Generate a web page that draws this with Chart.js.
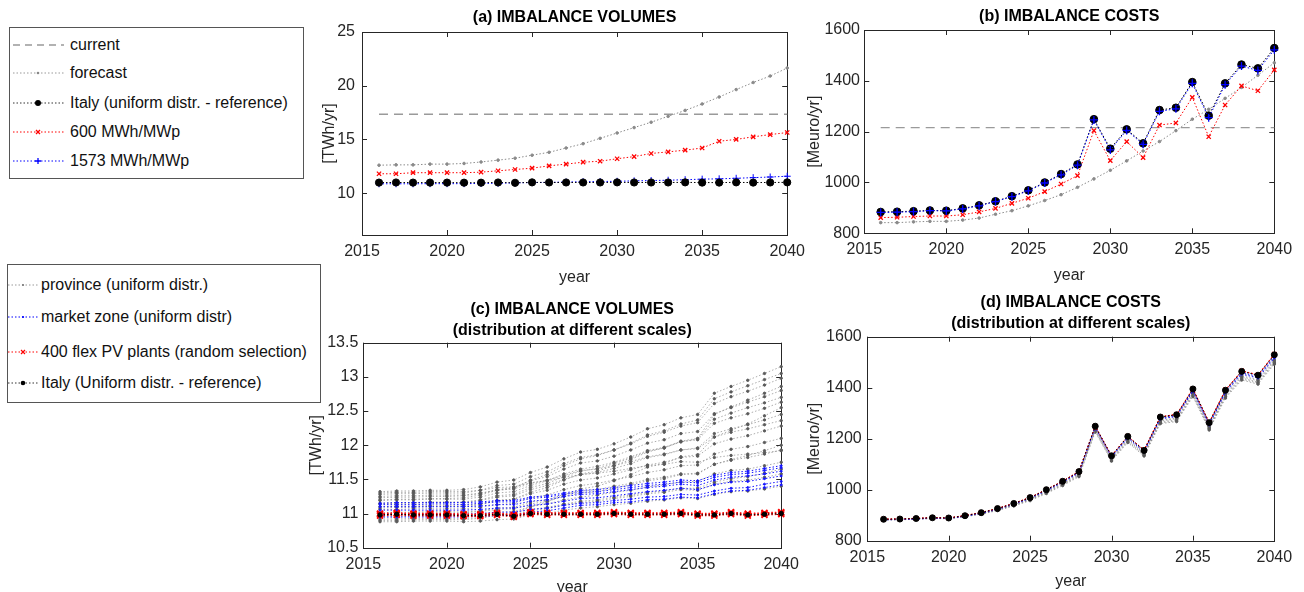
<!DOCTYPE html>
<html>
<head>
<meta charset="utf-8">
<script src="https://cdn.jsdelivr.net/npm/chart.js@4.4.0/dist/chart.umd.min.js"></script>
<style>
body{margin:0;width:1304px;height:592px;overflow:hidden;background:#fff;position:relative;font-family:"Liberation Sans",Arial,sans-serif}
canvas{position:absolute}
.box{position:absolute;border:1px solid #555;background:#fff}
.row{position:absolute;display:flex;align-items:center;font-size:16px;color:#111;white-space:nowrap;height:20px}
.row svg{margin-right:6px}
</style>
</head>
<body>

<div class="box" style="left:9px;top:27px;width:293px;height:150px"></div>
<div class="row" style="left:13px;top:35px"><svg width="51" height="10"><line x1="0" y1="5" x2="51" y2="5" stroke="#999" stroke-width="1.3" stroke-dasharray="7,5"/></svg>current</div>
<div class="row" style="left:13px;top:63px"><svg width="51" height="10"><line x1="0" y1="5" x2="51" y2="5" stroke="#999" stroke-dasharray="1.5,2"/><circle cx="25" cy="5" r="1.3" fill="#888"/></svg>forecast</div>
<div class="row" style="left:13px;top:93px"><svg width="51" height="10"><line x1="0" y1="5" x2="51" y2="5" stroke="#333" stroke-dasharray="1.5,2"/><circle cx="25" cy="5" r="3" fill="#000"/></svg>Italy (uniform distr. - reference)</div>
<div class="row" style="left:13px;top:122px"><svg width="51" height="10"><line x1="0" y1="5" x2="51" y2="5" stroke="#f00" stroke-dasharray="1.5,2"/><path d="M23 3L27 7M27 3L23 7" stroke="#f00" stroke-width="1.3"/></svg>600 MWh/MWp</div>
<div class="row" style="left:13px;top:151px"><svg width="51" height="10"><line x1="0" y1="5" x2="51" y2="5" stroke="#00f" stroke-dasharray="1.5,2"/><path d="M25 2L25 8M22 5L28 5" stroke="#00f" stroke-width="1.3"/></svg>1573 MWh/MWp</div>

<div class="box" style="left:7px;top:264px;width:312px;height:137px"></div>
<div class="row" style="left:8px;top:275px"><svg width="31" height="10" style="margin-right:2px"><line x1="0" y1="5" x2="31" y2="5" stroke="#999" stroke-dasharray="1.5,2"/><circle cx="15" cy="5" r="1.1" fill="#777"/></svg>province (uniform distr.)</div>
<div class="row" style="left:8px;top:307px"><svg width="31" height="10" style="margin-right:2px"><line x1="0" y1="5" x2="31" y2="5" stroke="#00f" stroke-dasharray="1.5,2"/><circle cx="15" cy="5" r="1.1" fill="#00f"/></svg>market zone (uniform distr)</div>
<div class="row" style="left:8px;top:342px"><svg width="31" height="10" style="margin-right:2px"><line x1="0" y1="5" x2="31" y2="5" stroke="#f00" stroke-dasharray="1.5,2"/><path d="M13 3L17 7M17 3L13 7" stroke="#f00" stroke-width="1.2"/></svg>400 flex PV plants (random selection)</div>
<div class="row" style="left:8px;top:373px"><svg width="31" height="10" style="margin-right:2px"><line x1="0" y1="5" x2="31" y2="5" stroke="#333" stroke-dasharray="1.5,2"/><circle cx="15" cy="5" r="2.3" fill="#000"/></svg>Italy (Uniform distr. - reference)</div>

<canvas id="ca" width="512" height="290" style="left:300px;top:0px"></canvas>
<canvas id="cb" width="524" height="290" style="left:780px;top:0px"></canvas>
<canvas id="cc" width="506" height="310" style="left:300px;top:290px"></canvas>
<canvas id="cd" width="524" height="310" style="left:780px;top:290px"></canvas>

<script>
// years and tick labels
const years = [2016,2017,2018,2019,2020,2021,2022,2023,2024,2025,2026,2027,2028,2029,2030,2031,2032,2033,2034,2035,2036,2037,2038,2039,2040];
const xTicks = [2015,2020,2025,2030,2035,2040];
const volTicksA = [10,15,20,25];
const volTicksC = [10.5,11,11.5,12,12.5,13,13.5];
const costTicks = [800,1000,1200,1400,1600];

// (a) imbalance volumes [TWh/yr]
const currentYears = [2016,2040];
const currentVol = [17.34,17.34];
const forecastVol = [12.6,12.63,12.63,12.7,12.7,12.76,12.9,13.07,13.25,13.53,13.8,14.2,14.6,15.1,15.6,16.1,16.6,17.15,17.7,18.3,18.95,19.64,20.3,20.9,21.65];
const italyVol = [10.98,10.99,10.98,10.98,10.98,10.97,10.97,10.99,10.96,11.0,10.99,10.99,10.99,10.99,11.0,10.99,10.99,10.99,11.0,10.98,10.98,11.0,10.98,10.99,11.0];
const vol600 = [11.8,11.8,11.9,11.9,11.9,11.9,11.95,12.08,12.2,12.32,12.54,12.7,12.88,12.97,13.2,13.4,13.69,13.84,14.0,14.2,14.83,15.0,15.24,15.45,15.64];
const vol1573 = [10.87,10.87,10.87,10.88,10.88,10.88,10.9,10.92,10.95,10.98,11.0,11.03,11.06,11.08,11.1,11.14,11.17,11.2,11.25,11.3,11.33,11.38,11.44,11.5,11.57];

// (b) imbalance costs [Meuro/yr]
const currentCost = [1216,1216];
const forecastCost = [842,842,845,847,847,852,860,875,889,908,929,952,981,1014,1048,1085,1124,1161,1204,1249,1288,1331,1374,1422,1471];
const italyCost = [884,885,887,890,889,898,910,926,946,969,1000,1033,1071,1249,1133,1209,1154,1285,1294,1395,1263,1390,1464,1449,1529];
const cost600 = [862,863,866,868,868,873,884,898,918,938,964,994,1027,1204,1086,1161,1098,1226,1234,1335,1180,1305,1380,1361,1443];
const cost1573 = [882,883,885,889,888,896,908,925,944,967,998,1030,1068,1246,1128,1205,1150,1280,1290,1390,1255,1385,1458,1441,1522];

// (c) volumes, province level (uniform distr.)
const provVol = [
  [10.88,10.88,10.89,10.89,10.89,10.88,10.89,10.91,10.92,10.98,11.00,11.05,11.08,11.10,11.13,11.15,11.18,11.20,11.23,11.22,11.28,11.32,11.33,11.36,11.40],
  [10.92,10.92,10.93,10.93,10.93,10.93,10.94,10.97,10.98,11.04,11.07,11.13,11.16,11.18,11.22,11.25,11.29,11.31,11.35,11.34,11.43,11.47,11.49,11.53,11.58],
  [10.97,10.97,10.98,10.98,10.98,10.97,10.99,11.02,11.03,11.10,11.14,11.20,11.24,11.27,11.31,11.34,11.39,11.42,11.46,11.47,11.58,11.63,11.65,11.70,11.75],
  [11.01,11.02,11.02,11.03,11.03,11.02,11.04,11.08,11.09,11.17,11.20,11.28,11.33,11.35,11.40,11.44,11.50,11.53,11.58,11.59,11.72,11.78,11.82,11.87,11.93],
  [11.06,11.06,11.07,11.07,11.07,11.07,11.09,11.13,11.15,11.23,11.27,11.35,11.41,11.44,11.49,11.54,11.60,11.64,11.70,11.71,11.87,11.94,11.98,12.04,12.10],
  [11.10,11.11,11.11,11.12,11.12,11.12,11.14,11.19,11.21,11.29,11.34,11.43,11.49,11.52,11.58,11.64,11.71,11.75,11.82,11.84,12.02,12.09,12.14,12.21,12.28],
  [11.14,11.15,11.15,11.16,11.16,11.16,11.19,11.24,11.26,11.35,11.41,11.50,11.57,11.60,11.66,11.73,11.82,11.86,11.93,11.96,12.17,12.24,12.30,12.37,12.45],
  [11.19,11.20,11.20,11.21,11.21,11.21,11.24,11.30,11.32,11.41,11.48,11.58,11.65,11.69,11.75,11.83,11.92,11.97,12.05,12.08,12.32,12.40,12.46,12.54,12.63],
  [11.23,11.24,11.24,11.25,11.25,11.26,11.29,11.35,11.38,11.48,11.54,11.65,11.74,11.77,11.84,11.93,12.03,12.08,12.17,12.20,12.46,12.55,12.63,12.71,12.80],
  [11.28,11.29,11.29,11.30,11.30,11.30,11.34,11.41,11.43,11.54,11.61,11.73,11.82,11.86,11.93,12.02,12.13,12.19,12.28,12.33,12.61,12.71,12.79,12.88,12.98],
  [11.32,11.33,11.33,11.34,11.34,11.35,11.39,11.46,11.49,11.60,11.68,11.80,11.90,11.94,12.02,12.12,12.24,12.30,12.40,12.45,12.76,12.86,12.95,13.05,13.15],
  [11.30,11.31,11.31,11.32,11.32,11.32,11.34,11.38,11.39,11.45,11.48,11.53,11.57,11.59,11.62,11.66,11.70,11.72,11.76,11.75,11.82,11.85,11.87,11.89,11.92],
  [10.90,10.90,10.91,10.91,10.91,10.91,10.93,10.98,11.00,11.10,11.17,11.27,11.36,11.40,11.48,11.57,11.68,11.73,11.83,11.86,12.12,12.22,12.31,12.43,12.55],
  [11.20,11.21,11.21,11.22,11.22,11.23,11.27,11.34,11.37,11.49,11.57,11.70,11.80,11.85,11.93,12.03,12.15,12.21,12.31,12.37,12.68,12.78,12.87,12.96,13.05],
  [11.00,11.00,11.01,11.01,11.01,11.01,11.03,11.06,11.07,11.14,11.18,11.25,11.30,11.32,11.37,11.42,11.48,11.51,11.57,11.58,11.72,11.79,11.85,11.92,12.00],
  [11.25,11.26,11.26,11.27,11.27,11.27,11.30,11.34,11.36,11.44,11.49,11.56,11.63,11.65,11.70,11.76,11.83,11.87,11.93,11.95,12.12,12.19,12.24,12.30,12.36],
  [11.08,11.09,11.09,11.10,11.10,11.10,11.13,11.19,11.21,11.31,11.38,11.49,11.58,11.62,11.70,11.79,11.90,11.96,12.06,12.10,12.45,12.56,12.66,12.76,12.86],
  [10.95,10.95,10.96,10.96,10.96,10.96,10.97,10.99,11.00,11.06,11.09,11.14,11.18,11.20,11.24,11.27,11.31,11.33,11.37,11.37,11.46,11.51,11.54,11.59,11.65],
  [11.15,11.16,11.16,11.17,11.17,11.17,11.20,11.26,11.28,11.38,11.44,11.54,11.62,11.66,11.73,11.81,11.91,11.96,12.05,12.09,12.38,12.47,12.55,12.62,12.70]
];
// (c) volumes, market zone level
const zoneVol = [
  [10.95,10.95,10.95,10.95,10.95,10.95,10.96,10.97,10.97,11.02,11.04,11.08,11.12,11.13,11.16,11.17,11.20,11.21,11.24,11.23,11.29,11.33,11.34,11.38,11.42],
  [10.99,10.99,10.99,10.99,10.99,10.99,11.00,11.02,11.02,11.06,11.08,11.12,11.15,11.16,11.19,11.21,11.24,11.25,11.28,11.27,11.33,11.37,11.38,11.43,11.47],
  [11.05,11.05,11.05,11.05,11.05,11.05,11.06,11.08,11.08,11.12,11.14,11.18,11.22,11.23,11.26,11.29,11.32,11.34,11.37,11.35,11.42,11.46,11.47,11.51,11.55],
  [11.10,11.10,11.10,11.10,11.10,11.10,11.11,11.13,11.13,11.18,11.20,11.25,11.28,11.29,11.32,11.35,11.38,11.40,11.43,11.41,11.49,11.53,11.55,11.58,11.62],
  [11.13,11.13,11.13,11.14,11.14,11.13,11.15,11.17,11.17,11.22,11.24,11.28,11.31,11.32,11.35,11.38,11.41,11.43,11.46,11.45,11.53,11.57,11.59,11.63,11.67],
  [11.15,11.16,11.16,11.16,11.16,11.16,11.17,11.19,11.19,11.24,11.26,11.30,11.34,11.35,11.38,11.41,11.44,11.46,11.49,11.48,11.56,11.60,11.62,11.66,11.70]
];
// (c) volumes, 400 flex PV plants
const flexVol = [
  [10.99,11.00,10.99,10.99,10.99,10.98,10.98,11.00,10.97,11.01,11.00,11.00,11.00,11.00,11.01,11.00,11.00,11.00,11.01,10.99,10.99,11.01,10.99,11.00,11.01],
  [10.97,10.98,10.97,10.97,10.97,10.96,10.96,10.98,10.95,10.99,10.98,10.98,10.98,10.98,10.99,10.98,10.98,10.98,10.99,10.97,10.97,10.99,10.97,10.98,10.99],
  [11.00,11.01,11.00,11.00,11.00,10.99,10.99,11.01,10.98,11.02,11.01,11.01,11.01,11.01,11.02,11.01,11.01,11.01,11.02,11.00,11.00,11.02,11.00,11.01,11.02]
];

// (d) costs at different scales
const provCost = [
  [884,885,887,890,889,897,909,924,944,966,997,1030,1067,1244,1128,1204,1149,1279,1288,1388,1256,1383,1455,1440,1520],
  [883,884,886,889,888,896,908,923,942,964,994,1026,1063,1240,1124,1199,1144,1273,1281,1381,1249,1375,1447,1431,1510],
  [883,884,886,889,888,896,907,922,941,963,992,1024,1060,1237,1121,1196,1141,1270,1278,1377,1245,1371,1443,1427,1505],
  [882,883,885,888,887,895,906,921,939,961,990,1021,1057,1233,1118,1192,1138,1266,1274,1372,1241,1367,1438,1422,1500],
  [882,883,885,888,887,895,905,920,938,959,988,1019,1054,1230,1115,1189,1135,1262,1270,1369,1238,1363,1434,1418,1496],
  [881,882,884,887,886,894,904,918,936,957,985,1016,1051,1226,1112,1185,1132,1259,1267,1365,1234,1359,1430,1414,1492]
];
const zoneCost = [
  [883,884,886,889,888,897,909,925,945,968,999,1032,1069,1247,1131,1207,1152,1282,1291,1391,1259,1386,1459,1444,1523],
  [882,883,885,888,887,896,907,923,943,966,996,1029,1066,1244,1128,1203,1148,1278,1287,1386,1254,1381,1453,1438,1516]
];
const flexCost = [
  [885,886,888,891,890,899,911,927,947,970,1001,1034,1072,1250,1134,1210,1156,1286,1296,1396,1265,1392,1466,1451,1532],
  [884,885,887,890,889,898,910,926,946,969,1000,1033,1071,1248,1133,1209,1155,1285,1295,1395,1263,1391,1465,1450,1530]
];

Chart.defaults.font.family = '"Liberation Sans", Arial, sans-serif';
const AX = '#262626';
const GRAY_LINE = 'rgba(120,120,120,0.6)';
const GRAY_PT = '#5a5a5a';

function ds(xs, vals, color, extra) {
  return Object.assign({
    data: xs.map((x, i) => ({x: x, y: vals[i]})),
    borderColor: color, backgroundColor: color,
    borderWidth: 1, borderDash: [1.5, 2],
    pointRadius: 0, pointBorderColor: color, pointBackgroundColor: color,
    pointBorderWidth: 1, clip: false
  }, extra || {});
}

// box around the plot with inward ticks, matlab style
const frame = {
  id: 'frame',
  beforeDatasetsDraw(c) {
    const {ctx, chartArea: a, scales} = c;
    ctx.save();
    ctx.strokeStyle = AX; ctx.lineWidth = 1;
    ctx.strokeRect(Math.round(a.left) + 0.5, Math.round(a.top) + 0.5, Math.round(a.right - a.left), Math.round(a.bottom - a.top));
    ctx.beginPath();
    scales.x.ticks.forEach(t => {
      const p = Math.round(scales.x.getPixelForValue(t.value)) + 0.5;
      ctx.moveTo(p, a.bottom); ctx.lineTo(p, a.bottom - 5);
      ctx.moveTo(p, a.top); ctx.lineTo(p, a.top + 5);
    });
    scales.y.ticks.forEach(t => {
      const p = Math.round(scales.y.getPixelForValue(t.value)) + 0.5;
      ctx.moveTo(a.left, p); ctx.lineTo(a.left + 5, p);
      ctx.moveTo(a.right, p); ctx.lineTo(a.right - 5, p);
    });
    ctx.stroke();
    ctx.restore();
  }
};

function opts(p) {
  return {
    responsive: false, animation: false,
    layout: {padding: {left: 0, right: p.right, top: 0, bottom: 0}},
    plugins: {
      legend: {display: false}, tooltip: {enabled: false},
      title: {display: true, text: p.title, fullSize: false, color: '#000',
        font: {size: 16, weight: 'bold', lineHeight: p.titleLH}, padding: p.titlePad}
    },
    scales: {
      x: {type: 'linear', min: 2015, max: 2040,
        afterBuildTicks: s => { s.ticks = xTicks.map(v => ({value: v})); },
        afterFit: s => { s.height = p.xh; },
        grid: {display: false, drawTicks: false}, border: {display: false},
        ticks: {color: AX, font: {size: 16}, padding: 7, maxRotation: 0, autoSkip: false, callback: v => String(v)},
        title: {display: true, text: 'year', color: AX, font: {size: 16}, padding: {top: 0, bottom: p.xtp}}},
      y: {type: 'linear', min: p.ymin, max: p.ymax,
        afterBuildTicks: s => { s.ticks = p.yticks.map(v => ({value: v})); },
        afterFit: s => { s.width = p.yw; },
        grid: {display: false, drawTicks: false}, border: {display: false},
        ticks: {color: AX, font: {size: 16}, padding: p.ytk, autoSkip: false, callback: v => String(v)},
        title: {display: true, text: p.ylabel, color: AX, font: {size: 16}, padding: {top: p.ytp, bottom: 0}}}
    }
  };
}

// (a)
new Chart(document.getElementById('ca'), {
  type: 'line',
  data: {datasets: [
    ds(years, italyVol, '#000', {pointRadius: 3.6, order: 1}),
    ds(years, vol1573, '#0000ff', {pointStyle: 'cross', pointRadius: 3.5, order: 2}),
    ds(years, vol600, '#ff0000', {pointStyle: 'crossRot', pointRadius: 3, pointBorderWidth: 1.3, order: 3}),
    ds(years, forecastVol, '#8a8a8a', {pointRadius: 1.3, order: 4}),
    ds(currentYears, currentVol, '#9a9a9a', {borderDash: [9, 6], borderWidth: 1.3, order: 5})
  ]},
  options: opts({title: '(a) IMBALANCE VOLUMES', titleLH: 1.2, titlePad: {top: 7.5, bottom: 5.3},
    right: 24, xh: 55, xtp: 2.4, ymin: 6.1, ymax: 25, yticks: volTicksA, yw: 62, ytk: 7, ytp: 20, ylabel: '[TWh/yr]'}),
  plugins: [frame]
});

// (b)
new Chart(document.getElementById('cb'), {
  type: 'line',
  data: {datasets: [
    ds(years, cost1573, '#0000ff', {pointStyle: 'cross', pointRadius: 4, pointBorderWidth: 1.3, order: 1}),
    ds(years, italyCost, '#000', {pointRadius: 3.8, order: 2}),
    ds(years, cost600, '#ff0000', {pointStyle: 'crossRot', pointRadius: 3, pointBorderWidth: 1.3, order: 3}),
    ds(years, forecastCost, '#8a8a8a', {pointRadius: 1.3, order: 4}),
    ds(currentYears, currentCost, '#9a9a9a', {borderDash: [9, 6], borderWidth: 1.3, order: 5})
  ]},
  options: opts({title: '(b) IMBALANCE COSTS', titleLH: 1.2, titlePad: {top: 7, bottom: 3.8},
    right: 29.7, xh: 56.7, xtp: 5.2, ymin: 800, ymax: 1600, yticks: costTicks, yw: 84.3, ytk: 4.3, ytp: 24.5, ylabel: '[Meuro/yr]'}),
  plugins: [frame]
});

// (c)
const dsC = [ds(years, italyVol, '#000', {pointRadius: 2.2, order: 1})];
flexVol.forEach(v => dsC.push(ds(years, v, '#ff0000', {pointStyle: 'crossRot', pointRadius: 4.2, pointBorderWidth: 1.8, borderWidth: 1.4, order: 2})));
zoneVol.forEach(v => dsC.push(ds(years, v, '#1515ff', {pointRadius: 1, order: 3})));
provVol.forEach(v => dsC.push(ds(years, v, GRAY_LINE, {pointRadius: 1.2, pointBorderColor: GRAY_PT, pointBackgroundColor: GRAY_PT, order: 4})));
new Chart(document.getElementById('cc'), {
  type: 'line',
  data: {datasets: dsC},
  options: opts({title: ['(c) IMBALANCE VOLUMES', '(distribution at different scales)'], titleLH: 1.3, titlePad: {top: 9.6, bottom: 1.5},
    right: 23.7, xh: 52.3, xtp: 2.9, ymin: 10.5, ymax: 13.5, yticks: volTicksC, yw: 63.3, ytk: 5, ytp: 6.5, ylabel: '[TWh/yr]'}),
  plugins: [frame]
});

// (d)
const dsD = [ds(years, italyCost, '#000', {pointRadius: 3, order: 1})];
flexCost.forEach(v => dsD.push(ds(years, v, '#ff0000', {pointStyle: 'crossRot', pointRadius: 3, pointBorderWidth: 1.2, order: 2})));
zoneCost.forEach(v => dsD.push(ds(years, v, '#1515ff', {pointRadius: 1, order: 3})));
provCost.forEach(v => dsD.push(ds(years, v, GRAY_LINE, {pointRadius: 1.2, pointBorderColor: GRAY_PT, pointBackgroundColor: GRAY_PT, order: 4})));
new Chart(document.getElementById('cd'), {
  type: 'line',
  data: {datasets: dsD},
  options: opts({title: ['(d) IMBALANCE COSTS', '(distribution at different scales)'], titleLH: 1.3125, titlePad: {top: 1.8, bottom: 2.9},
    right: 29.7, xh: 59.3, xtp: 8.4, ymin: 800, ymax: 1600, yticks: costTicks, yw: 87.3, ytk: 5.6, ytp: 25.4, ylabel: '[Meuro/yr]'}),
  plugins: [frame]
});
</script>
</body>
</html>
